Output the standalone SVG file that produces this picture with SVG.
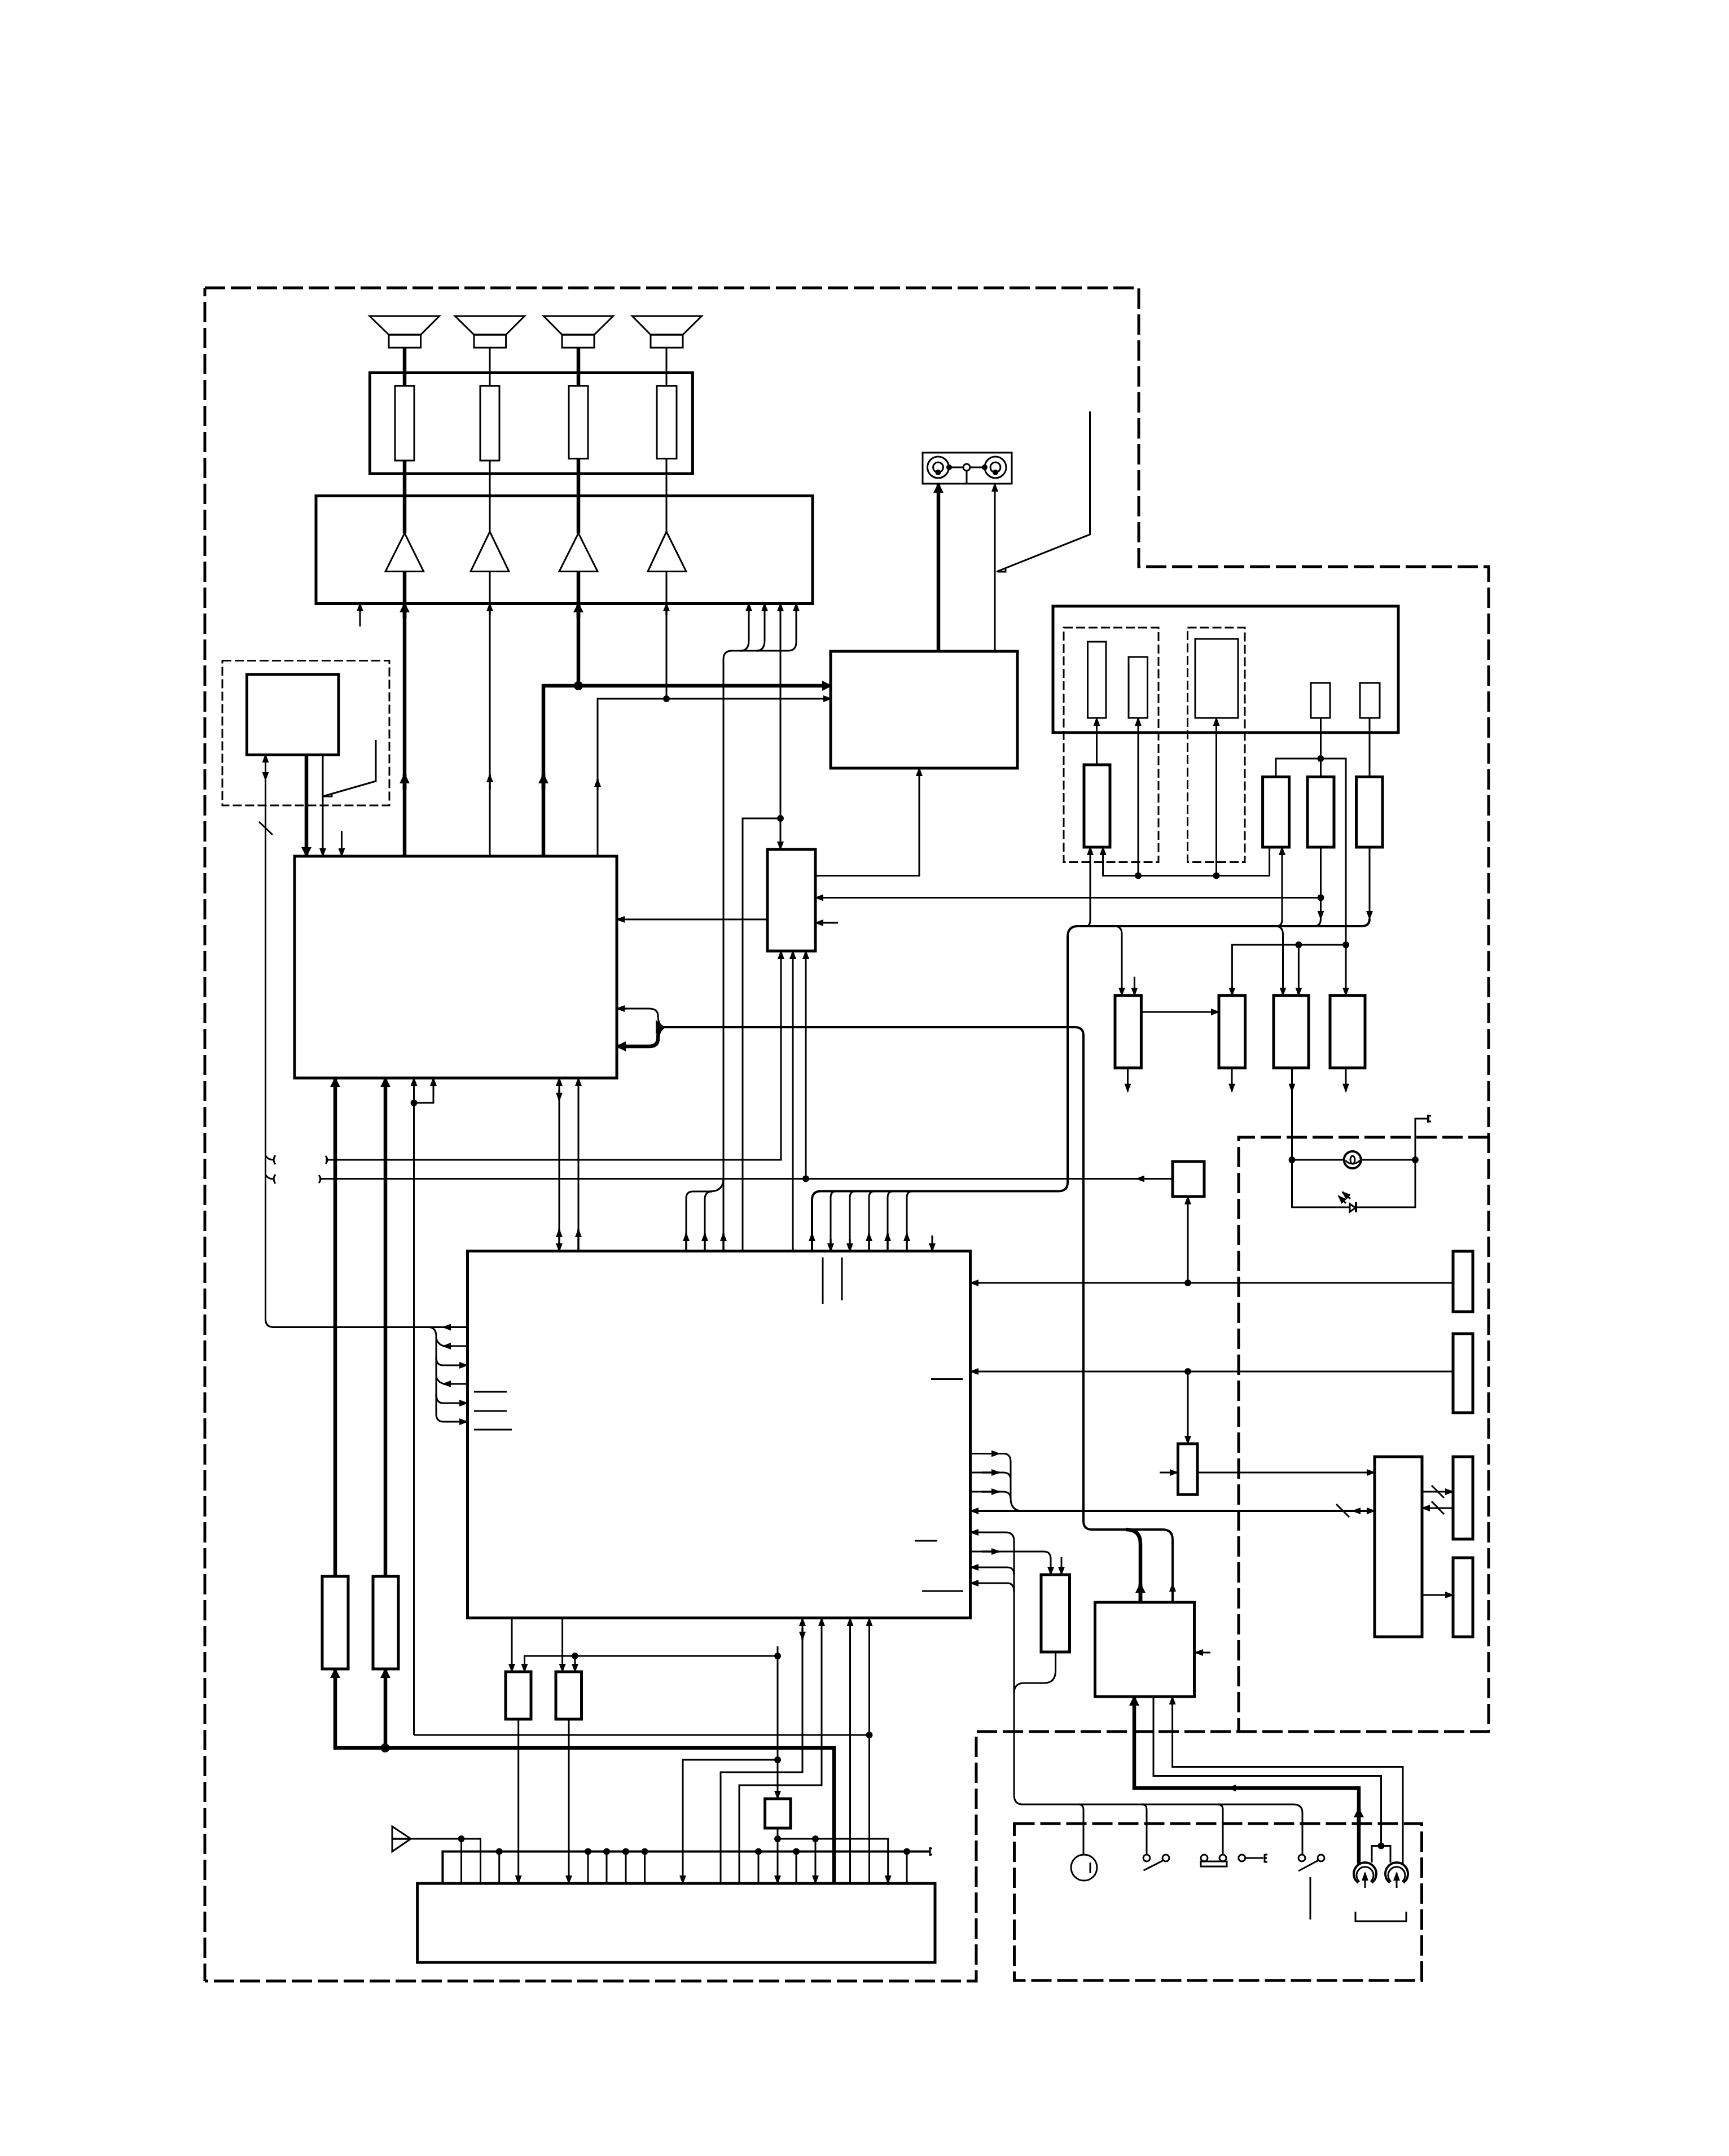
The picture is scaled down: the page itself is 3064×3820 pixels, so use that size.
<svg xmlns="http://www.w3.org/2000/svg" width="3064" height="3820" viewBox="0 0 3064 3820">
<style>
.t,.m,.k,.b,.i,.d,.e{fill:none;stroke:#000;stroke-linejoin:miter}
.t{stroke-width:3}
.m{stroke-width:4}
.k{stroke-width:6.5}
.b{stroke-width:5}
.i{stroke-width:3}
.d{stroke-width:5;stroke-dasharray:36 10}
.e{stroke-width:3;stroke-dasharray:16 6}
.ta{marker-end:url(#at)}
.ka{marker-end:url(#ak)}
.j{fill:#000;stroke:none}
.w{fill:#fff;stroke:#000;stroke-width:3}
</style>
<defs>
<marker id="at" markerUnits="userSpaceOnUse" markerWidth="16" markerHeight="12" viewBox="0 0 16 12" refX="14" refY="6" orient="auto"><path d="M0 0L16 6L0 12z" fill="#000"/></marker>
<marker id="ak" markerUnits="userSpaceOnUse" markerWidth="18" markerHeight="18" viewBox="0 0 18 18" refX="16" refY="9" orient="auto"><path d="M0 0L18 9L0 18z" fill="#000"/></marker>
</defs>
<rect width="3064" height="3820" fill="#fff"/>

<g id="frames">
<path class="d" d="M363 510H2018V1004H2638V3068H1730V3510H363"/>
<path class="d" stroke-dashoffset="21" d="M363 510V3510"/>
<path class="d" d="M2638 2015H2195V3068"/>
<rect class="d" x="1797.5" y="3231" width="722" height="278"/>
<rect class="e" x="394" y="1170.5" width="296" height="256.5"/>
<rect class="e" x="1885" y="1112" width="168" height="415.5"/>
<rect class="e" x="2104.5" y="1112" width="101.5" height="415.5"/>
</g>

<g id="connectors">
<path class="k" d="M717 616V684M717 816V945M717 1012V1517"/>
<path class="k ka" d="M717 1095V1069"/><path class="k ka" d="M717 1400V1372"/>
<path class="t" d="M868 616V684M868 816V942M868 1012V1517"/>
<path class="t ta" d="M868 1090V1069"/><path class="t ta" d="M868 1400V1372"/>
<path class="k" d="M1025 616V684M1025 813V945M1025 1012V1215"/>
<path class="k ka" d="M1025 1095V1069"/>
<path class="t" d="M1181 616V684M1181 813V942M1181 1012V1238"/>
<path class="t ta" d="M1181 1090V1069"/>
<path class="k ka" d="M963 1517V1215H1473"/><path class="k ka" d="M963 1400V1372"/>
<path class="t ta" d="M1059 1517V1238H1473"/><path class="t ta" d="M1059 1400V1380"/>
<path class="t ta" d="M638 1110V1069"/>
<path class="t ta" d="M1282 2217V1168Q1282 1153 1297 1153H1396Q1411 1153 1411 1138V1069"/>
<path class="t ta" d="M1312 1153Q1327 1153 1327 1135V1069"/>
<path class="t ta" d="M1340 1153Q1355 1153 1355 1135V1069"/>
<path class="t ta" d="M1282 2217V2185"/>
<path class="t" d="M1282 2088Q1282 2111 1258 2111H1228Q1216 2111 1216 2123V2217"/>
<path class="t" d="M1262 2111Q1249 2111 1249 2125V2217"/>
<path class="t ta" d="M1216 2217V2185"/><path class="t ta" d="M1249 2217V2185"/>
<path class="t ta" d="M1383 1450V1069"/><path class="t ta" d="M1383 1450V1505"/>
<path class="t" d="M1383 1450H1316V2217"/>
<path class="t ta" d="M577 2055H1384V1685"/>
<path class="t ta" d="M1405 2217V1685"/>
<path class="t ta" d="M1428 2088V1685"/>
<path class="t" d="M2078 2088.5H566"/>
<path class="t ta" d="M2030 2088.5H2014"/>
<path class="t ta" d="M1360 1629H1093"/>
<path class="t ta" d="M1445 1551.5H1629V1361"/>
<path class="t ta" d="M2341 1590.5H1445"/>
<path class="t ta" d="M1485 1635H1445"/>
<path class="t ta" d="M470.5 2337V1337"/><path class="t ta" d="M470.5 1360V1382"/>
<path class="t" d="M459 1456L483 1479"/>
<path class="k ka" d="M543 1337V1517"/>
<path class="t ta" d="M572 1337V1517"/>
<path class="t ta" d="M605.5 1472V1517"/>
<path class="t" d="M666 1311V1384L572 1411"/><path class="t" d="M574 1411H588V1407"/>
<path class="m" d="M1175 1820H1905Q1920 1820 1920 1835V2695Q1920 2710 1935 2710H2060Q2078 2710 2078 2728V2839"/>
<path class="t" d="M1175 1820Q1166 1815 1166 1800Q1166 1787 1150 1787H1105"/>
<path class="t ta" d="M1110 1787H1093"/>
<path class="k" d="M1175 1820Q1166 1825 1166 1840Q1166 1854 1150 1854H1105"/>
<path class="k ka" d="M1110 1854H1093"/>
<path class="j" d="M1162 1807L1178 1820L1162 1833z"/>
<path class="k" d="M1995 2710Q2021 2710 2021 2735V2839"/>
<path class="k ka" d="M2021 2839V2806"/><path class="t ta" d="M2078 2839V2806"/>
<path class="k ka" d="M594 2793V1910"/>
<path class="k ka" d="M683 2793V1910"/>
<path class="k ka" d="M1478 3337V3097H594V2957"/>
<path class="k ka" d="M683 3097V2957"/>
<path class="t ta" d="M733.5 3074V1910"/>
<path class="t ta" d="M733.5 1954H768V1910"/>
<path class="t" d="M733.5 3074H1540"/>
<path class="t ta" d="M991 1930V1910"/><path class="t ta" d="M991 1930V1950"/><path class="t" d="M991 1930V2217"/>
<path class="t ta" d="M991 2195V2178"/><path class="t ta" d="M991 2195V2217"/>
<path class="t ta" d="M1025 2217V1910"/><path class="t ta" d="M1025 2217V2178"/>
<path class="t" d="M471 2048Q475 2055 485 2055M488 2047Q482 2055 488 2063"/>
<path class="t" d="M471 2082Q475 2089 485 2089M488 2081Q482 2089 488 2097"/>
<path class="t" d="M577 2048Q583 2055 577 2062"/>
<path class="t" d="M565 2082Q571 2089 565 2096"/>
<path class="t" d="M828 2351.5H485Q470.5 2351.5 470.5 2337"/>
<path class="t ta" d="M800 2351.5H785"/>
<path class="t ta" d="M760 2351.5Q773 2352 773 2368V2505Q773 2519 786 2519H828"/>
<path class="t" d="M773 2372Q778 2385 790 2385H828"/><path class="t ta" d="M800 2385H785"/>
<path class="t ta" d="M773 2405Q773 2419 785 2419H828"/>
<path class="t" d="M773 2440Q778 2452 790 2452H828"/><path class="t ta" d="M800 2452H785"/>
<path class="t ta" d="M773 2470Q773 2486 785 2486H828"/>
<path class="t" d="M840 2466H898M840 2500H898M840 2533H907"/>
<path class="m" d="M1892 1660V2095Q1892 2110.6 1875 2110.6H1455Q1439 2110.6 1439 2126V2217"/>
<path class="t" d="M1482 2110.6Q1472 2110.6 1472 2122V2217M1516 2110.6Q1506 2110.6 1506 2122V2217M1550 2110.6Q1540 2110.6 1540 2122V2217M1583 2110.6Q1573 2110.6 1573 2122V2217M1617 2110.6Q1607 2110.6 1607 2122V2217"/>
<path class="t ta" d="M1439 2217V2185"/><path class="t ta" d="M1472 2195V2217"/><path class="t ta" d="M1506 2195V2217"/>
<path class="t ta" d="M1540 2217V2185"/><path class="t ta" d="M1573 2217V2185"/><path class="t ta" d="M1607 2217V2185"/>
<path class="t ta" d="M1652 2189V2217"/>
<path class="t" d="M1458 2228V2310M1492 2228V2304"/>
<path class="t" d="M1650 2443.5H1706M1621 2730H1661M1634 2819H1707"/>
<path class="m" d="M1892 1660Q1892 1641 1910 1641H2413Q2427 1641 2427 1628"/>
<path class="t ta" d="M1925 1641Q1932 1641 1932 1630V1501"/>
<path class="t ta" d="M2262 1641Q2272 1641 2272 1630V1501"/>
<path class="t" d="M2331 1641Q2340.5 1640 2340.5 1628"/>
<path class="t ta" d="M1943.5 1355V1272"/>
<path class="t ta" d="M2017 1551.5V1272"/>
<path class="t ta" d="M2155.5 1551.5V1272"/>
<path class="t ta" d="M2249.6 1501V1551.5H1954.6V1501"/>
<path class="t" d="M2340.5 1272V1376.5M2427 1272V1376.5"/>
<path class="t ta" d="M2340.5 1501V1628"/><path class="t ta" d="M2427 1501V1628"/>
<path class="t ta" d="M2261 1376.5V1344H2385V1763.7"/>
<path class="t ta" d="M2386 1674H2183.4V1763.7"/>
<path class="t ta" d="M2301.4 1674V1763.7"/>
<path class="t ta" d="M1975 1641Q1988 1641 1988 1655V1763.7"/>
<path class="t ta" d="M2260 1641Q2273.5 1641 2273.5 1655V1763.7"/>
<path class="t ta" d="M2010.4 1730.6V1763.7"/>
<path class="t ta" d="M2022.4 1793H2160"/>
<path class="t ta" d="M1998.5 1892V1934"/><path class="t ta" d="M2183 1892V1934"/><path class="t ta" d="M2385 1892V1934"/>
<path class="t" d="M2289.5 1892V2139H2508V1982H2530M2289.5 2055H2508"/>
<path class="t ta" d="M2289.5 1892V1934"/>
<path class="k ka" d="M1663 1154V857"/>
<path class="t ta" d="M1763 1154V857"/>
<path class="t" d="M1931.5 729V947L1766 1013"/><path class="t" d="M1768 1013H1782V1008"/>
<path class="t ta" d="M2105 2273V2120"/>
<path class="t ta" d="M2575 2273H1720"/>
<path class="t ta" d="M2575 2430H1720"/>
<path class="t ta" d="M2105 2430V2558"/>
<path class="t ta" d="M2055 2609H2087"/>
<path class="t ta" d="M2122 2609H2436"/>
<path class="t ta" d="M2520 2643H2575"/>
<path class="t ta" d="M2575 2672H2520"/>
<path class="t" d="M2537 2632L2559 2654M2537 2660L2559 2683M2368 2665L2391 2688"/>
<path class="t ta" d="M2520 2826H2575"/>
<path class="m" d="M1720 2677H2436"/>
<path class="t ta" d="M1740 2677H1720"/>
<path class="t ta" d="M2415 2677H2436"/><path class="t ta" d="M2415 2677H2397"/>
<path class="t" d="M1720 2575.6H1778Q1791 2575.6 1791 2590V2655Q1791 2677 1812 2677M1720 2609H1778Q1791 2609 1791 2622M1720 2643H1778Q1791 2643 1791 2656"/>
<path class="t ta" d="M1740 2575.6H1771"/><path class="t ta" d="M1740 2609H1771"/><path class="t ta" d="M1740 2643H1771"/>
<path class="t ta" d="M1797 3180V2730Q1797 2715 1782 2715H1720"/>
<path class="t ta" d="M1797 2790Q1797 2777 1785 2777H1720"/>
<path class="t ta" d="M1797 2820Q1797 2805 1785 2805H1720"/>
<path class="t ta" d="M1720 2749H1850Q1862 2749 1862 2762V2790"/>
<path class="t ta" d="M1740 2749H1771"/>
<path class="t ta" d="M1881 2759V2790"/>
<path class="t" d="M1870.6 2927V2960Q1870.6 2982 1850 2982H1815Q1797 2982 1797 3000"/>
<path class="t" d="M1797 3180Q1797 3197 1812 3197H2292Q2308 3197 2308 3212V3286"/>
<path class="t" d="M1912 3197Q1920 3197 1920 3206V3286M2024 3197Q2032 3197 2032 3206V3286M2158 3197Q2167 3197 2167 3206V3286"/>
<path class="k ka" d="M2408 3302V3168H2010V3006"/>
<path class="k ka" d="M2408 3235V3204"/>
<path class="t ta" d="M2198 3168H2176"/>
<path class="t" d="M2044 3006V3146.5H2447.5V3270.5M2431 3300V3270.5H2464V3300"/>
<path class="t ta" d="M2486 3302V3130.4H2077.6V3006"/>
<path class="t ta" d="M2145 2928H2118"/>
<path class="t" d="M2322 3326V3401"/>
<path class="t" d="M2402 3387V3404H2492V3387"/>
<path class="t ta" d="M1540.5 3337V2867"/>
<path class="t ta" d="M1506.5 3337V2867"/>
<path class="t ta" d="M1310 3337V3163H1456V2867"/>
<path class="t ta" d="M1277 3337V3140H1422V2867"/>
<path class="t ta" d="M1422 2885V2905"/>
<path class="t ta" d="M1378 2917V3187"/>
<path class="t ta" d="M1378 2934H929.5V2962"/>
<path class="t ta" d="M1019 2934V2962"/>
<path class="t ta" d="M1378 3118H1210V3337"/>
<path class="t ta" d="M907 2867V2962"/>
<path class="t ta" d="M996.6 2867V2962"/>
<path class="t ta" d="M918.7 3046V3337"/>
<path class="t ta" d="M1008 3046V3337"/>
<path class="t ta" d="M1378 3239V3337"/>
<path class="t ta" d="M1378 3258H1573.7V3337"/>
<path class="t ta" d="M1445 3258V3337"/>
<path class="m" d="M784.4 3337V3280.6H1648"/>
<path class="t" d="M884.7 3280.6V3337M1042 3280.6V3337M1075 3280.6V3337M1109 3280.6V3337M1142.6 3280.6V3337M1344 3280.6V3337M1411 3280.6V3337M1607 3280.6V3337"/>
<path class="t" d="M695 3258H851.5V3337M817.5 3258V3337"/>
<path class="t" d="M1648 3273V3288"/><path class="t" d="M1648 3275H1652M1648 3286H1652"/>
</g>

<g id="junctions">
<circle class="j" cx="1025" cy="1215" r="8"/><circle class="j" cx="1181" cy="1238" r="6"/>
<circle class="j" cx="1383" cy="1450" r="6"/><circle class="j" cx="1428" cy="2088.5" r="6"/>
<circle class="j" cx="733.5" cy="1954" r="6"/><circle class="j" cx="682.5" cy="3097" r="8"/>
<circle class="j" cx="1540.5" cy="3074" r="6"/><circle class="j" cx="1378" cy="2934" r="6"/>
<circle class="j" cx="1019" cy="2934" r="6"/><circle class="j" cx="1378" cy="3118" r="6"/>
<circle class="j" cx="1378" cy="3258" r="6"/><circle class="j" cx="1445" cy="3258" r="6"/>
<circle class="j" cx="817.5" cy="3258" r="6"/><circle class="j" cx="884.7" cy="3280.6" r="6"/>
<circle class="j" cx="1042" cy="3280.6" r="6"/><circle class="j" cx="1075" cy="3280.6" r="6"/>
<circle class="j" cx="1109" cy="3280.6" r="6"/><circle class="j" cx="1142.6" cy="3280.6" r="6"/>
<circle class="j" cx="1344" cy="3280.6" r="6"/><circle class="j" cx="1411" cy="3280.6" r="6"/>
<circle class="j" cx="1607" cy="3280.6" r="6"/>
<circle class="j" cx="2105" cy="2273" r="6"/><circle class="j" cx="2105" cy="2430" r="6"/>
<circle class="j" cx="2017" cy="1551.5" r="6"/><circle class="j" cx="2155.5" cy="1551.5" r="6"/>
<circle class="j" cx="2340.5" cy="1344" r="6"/><circle class="j" cx="2340.5" cy="1590.5" r="6"/>
<circle class="j" cx="2385" cy="1674" r="6"/><circle class="j" cx="2301.4" cy="1674" r="6"/>
<circle class="j" cx="2289.5" cy="2055" r="6"/><circle class="j" cx="2508" cy="2055" r="6"/>
<circle class="j" cx="2447.5" cy="3270.5" r="6"/>
</g>

<g id="speaker-1"><path class="i" d="M655 560H778.6L745.6 593H689z"/><rect class="i" x="689" y="593" width="56.6" height="23"/></g>
<g id="speaker-2"><path class="i" d="M806.4 560H929.6L896.6 593H840z"/><rect class="i" x="840" y="593" width="56.6" height="23"/></g>
<g id="speaker-3"><path class="i" d="M963.4 560H1086.6L1053 593H996z"/><rect class="i" x="996" y="593" width="57" height="23"/></g>
<g id="speaker-4"><path class="i" d="M1120.3 560H1243.5L1210 593H1153z"/><rect class="i" x="1153" y="593" width="57" height="23"/></g>

<g id="crossover"><rect class="b" x="655.4" y="660.5" width="572" height="178.8"/>
<rect class="i" x="700" y="683.6" width="34" height="132.4"/>
<rect class="i" x="851" y="683.6" width="34" height="132.4"/>
<rect class="i" x="1008" y="683.6" width="34" height="129"/>
<rect class="i" x="1164" y="683.6" width="35" height="129"/></g>

<g id="amp"><rect class="b" x="560" y="878.6" width="880" height="190.9"/>
<path class="i" d="M717 944.6L750.7 1012.6H683z"/>
<path class="i" d="M868 942L902 1012.6H834z"/>
<path class="i" d="M1025 944.6L1059 1012.6H991z"/>
<path class="i" d="M1181 942L1216 1012.6H1148z"/></g>

<g id="aux"><rect class="b" x="437.5" y="1195" width="162.5" height="142.5"/></g>
<g id="processor"><rect class="b" x="522" y="1517" width="571" height="393"/></g>
<g id="switch-box"><rect class="b" x="1360" y="1505" width="85" height="180"/></g>
<g id="cd-box"><rect class="b" x="1472" y="1154" width="331" height="207"/></g>

<g id="jack-panel"><rect class="i" x="1635" y="802" width="158" height="55"/>
<circle class="i" cx="1662.5" cy="828" r="19"/><circle class="i" cx="1662.5" cy="828" r="9"/>
<circle class="i" cx="1764" cy="828" r="19"/><circle class="i" cx="1764" cy="828" r="9"/>
<path class="t" d="M1682 828H1745M1713 834V857"/>
<circle class="j" cx="1682" cy="828" r="5"/><circle class="j" cx="1745" cy="828" r="5"/>
<circle class="j" cx="1662.5" cy="837" r="5"/><circle class="j" cx="1764" cy="837" r="5"/>
<circle class="w" cx="1713" cy="828" r="6"/></g>

<g id="display"><rect class="b" x="1866" y="1074" width="612" height="224"/>
<rect class="i" x="1927.5" y="1137" width="32.5" height="135"/>
<rect class="i" x="2000" y="1164" width="33.5" height="108"/>
<rect class="i" x="2118" y="1132" width="76" height="140"/>
<rect class="i" x="2323" y="1210" width="34" height="62"/>
<rect class="i" x="2410" y="1210" width="35" height="62"/></g>

<g id="driver-1"><rect class="b" x="1921" y="1355" width="46" height="146"/></g>
<g id="driver-2"><rect class="b" x="2237.6" y="1376.5" width="47" height="124.5"/></g>
<g id="driver-3"><rect class="b" x="2317" y="1376.5" width="47" height="124.5"/></g>
<g id="driver-4"><rect class="b" x="2403.5" y="1376.5" width="46.5" height="124.5"/></g>
<g id="block-1"><rect class="b" x="1976" y="1763.7" width="46.4" height="128.3"/></g>
<g id="block-2"><rect class="b" x="2160" y="1763.7" width="46.6" height="128.3"/></g>
<g id="block-3"><rect class="b" x="2257" y="1763.7" width="62" height="128.3"/></g>
<g id="block-4"><rect class="b" x="2357" y="1763.7" width="62" height="128.3"/></g>

<g id="lamp"><circle class="w" cx="2396.7" cy="2055" r="15" style="stroke-width:4"/><ellipse class="i" cx="2397" cy="2055" rx="4" ry="7"/><path class="t" d="M2384 2056Q2390 2062 2397 2062Q2404 2062 2410 2056"/></g>
<g id="led"><path class="w" d="M2392 2133V2147L2402 2140z"/><path class="m" d="M2403 2130V2148"/>
<path class="t ta" d="M2385 2132L2372 2119"/><path class="t ta" d="M2393 2124L2379 2112"/></g>
<g id="ground-1"><path class="m" d="M2531 1975V1989"/><path class="t" d="M2531 1977H2536M2531 1987H2536"/></g>

<g id="ic"><rect class="b" x="828.5" y="2216.7" width="891" height="650"/></g>
<g id="osc"><rect class="b" x="2078" y="2058" width="56" height="62"/></g>
<g id="conn-1"><rect class="b" x="2575" y="2217" width="35" height="107"/></g>
<g id="conn-2"><rect class="b" x="2575" y="2363" width="35" height="140"/></g>
<g id="conn-3"><rect class="b" x="2575" y="2581" width="35" height="146"/></g>
<g id="conn-4"><rect class="b" x="2575" y="2760" width="35" height="140"/></g>
<g id="front"><rect class="b" x="2436" y="2581" width="84" height="319"/></g>
<g id="gate"><rect class="b" x="2087.5" y="2558" width="34.5" height="90"/></g>
<g id="eeprom"><rect class="b" x="1845" y="2790" width="50.5" height="137"/></g>
<g id="regulator"><rect class="b" x="1940.5" y="2839" width="176" height="167"/></g>
<g id="buf-1"><rect class="b" x="571" y="2793" width="46" height="164"/></g>
<g id="buf-2"><rect class="b" x="661" y="2793" width="45" height="164"/></g>
<g id="buf-3"><rect class="b" x="896" y="2962" width="45" height="84"/></g>
<g id="buf-4"><rect class="b" x="985" y="2962" width="45.5" height="84"/></g>
<g id="buf-5"><rect class="b" x="1355.6" y="3187" width="45.4" height="52"/></g>
<g id="tuner"><rect class="b" x="739.6" y="3337" width="917.4" height="140"/></g>
<g id="antenna"><path class="i" d="M695 3236L728 3258L695 3280.6zM695 3258H728"/></g>

<g id="motor"><circle class="i" cx="1921" cy="3309" r="23"/><path class="t" d="M1932 3300V3319"/></g>
<g id="switch-1"><circle class="w" cx="2032" cy="3292" r="6"/><circle class="w" cx="2066" cy="3292" r="6"/><path class="t" d="M2026.5 3314L2062 3296"/></g>
<g id="switch-2"><circle class="w" cx="2134" cy="3292" r="6"/><circle class="w" cx="2167" cy="3292" r="6"/><rect class="i" x="2128" y="3298" width="46" height="9"/></g>
<g id="ground-2"><circle class="w" cx="2200.7" cy="3292" r="6"/><path class="t" d="M2206 3292H2239M2241 3285V3300M2241 3286H2246M2241 3299H2246M2241 3292H2245"/></g>
<g id="switch-3"><circle class="w" cx="2307" cy="3292" r="6"/><circle class="w" cx="2341" cy="3292" r="6"/><path class="t" d="M2301 3315L2336.5 3296"/></g>
<g id="connector-a"><path class="m" d="M2407 3336A20 20 0 1 1 2431 3336"/><path class="t" d="M2409 3334A15 15 0 1 1 2429 3334"/><path class="t ta" d="M2419 3345V3318"/></g>
<g id="connector-b"><path class="m" d="M2463 3336A20 20 0 1 1 2487 3336"/><path class="t" d="M2465 3334A15 15 0 1 1 2485 3334"/><path class="t ta" d="M2475 3345V3318"/></g>
</svg>
